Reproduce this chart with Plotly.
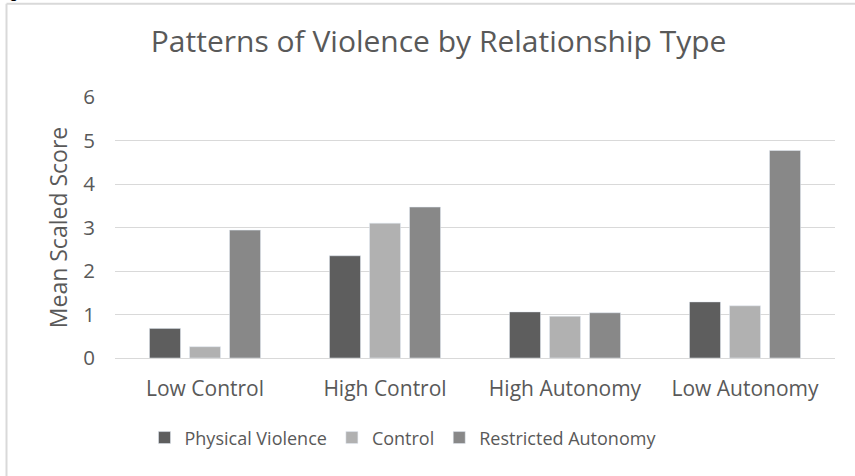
import plotly.graph_objects as go

categories = ["Low Control", "High Control", "High Autonomy", "Low Autonomy"]
physical_violence = [0.68, 2.35, 1.06, 1.29]
control = [0.26, 3.10, 0.96, 1.20]
restricted_autonomy = [2.94, 3.47, 1.04, 4.77]
y_ticks = [0, 1, 2, 3, 4, 5, 6]

FONT = "Open Sans"
TXT = "#595959"

fig = go.Figure()
fig.add_trace(go.Bar(name="Physical Violence", x=categories, y=physical_violence,
                     marker=dict(color="#5e5e5e")))
fig.add_trace(go.Bar(name="Control", x=categories, y=control,
                     marker=dict(color="#b1b1b1")))
fig.add_trace(go.Bar(name="Restricted Autonomy", x=categories, y=restricted_autonomy,
                     marker=dict(color="#888888")))

fig.update_layout(
    width=855, height=476,
    margin=dict(l=115, r=20, t=97, b=118),
    paper_bgcolor="white", plot_bgcolor="white",
    barmode="group", bargap=0.333, bargroupgap=0.225,
    font=dict(family=FONT, color=TXT, size=18),
    title=dict(text="Patterns of Violence by Relationship Type",
               x=0.513, xanchor="center", y=0.912, yanchor="middle",
               font=dict(size=30, color=TXT, family=FONT)),
    xaxis=dict(showgrid=False, showline=False, ticks="outside", ticklen=12,
               tickcolor="rgba(0,0,0,0)", tickfont=dict(size=21, color=TXT)),
    yaxis=dict(range=[0, 6], tickvals=y_ticks, showgrid=True, gridcolor="#d9d9d9",
               gridwidth=1.3, zeroline=True, zerolinecolor="#d9d9d9", zerolinewidth=1.3,
               ticks="outside", ticklen=15, tickcolor="rgba(0,0,0,0)",
               tickfont=dict(size=20.5, color=TXT),
               title=dict(text="Mean Scaled Score", font=dict(size=23, color=TXT), standoff=9)),
    legend=dict(orientation="h", x=0.4, xanchor="center", y=-0.306, yanchor="middle",
                font=dict(size=18, color=TXT), itemwidth=30, traceorder="normal"),
    shapes=[
        dict(type="line", xref="paper", yref="paper", x0=-0.1507, x1=1.03, y0=1.3577, y1=1.3577,
             line=dict(color="#d9d9d9", width=2)),
        dict(type="line", xref="paper", yref="paper", x0=-0.1507, x1=-0.1507, y0=1.3577, y1=-0.5,
             line=dict(color="#d9d9d9", width=2)),
    ],
    annotations=[
        dict(text="<b>Figure</b>", xref="paper", yref="paper", x=-0.1667, y=1.362,
             xanchor="left", yanchor="bottom", showarrow=False,
             font=dict(size=14, color="black", family="Liberation Sans")),
    ],
)

fig.write_html("out.html")
